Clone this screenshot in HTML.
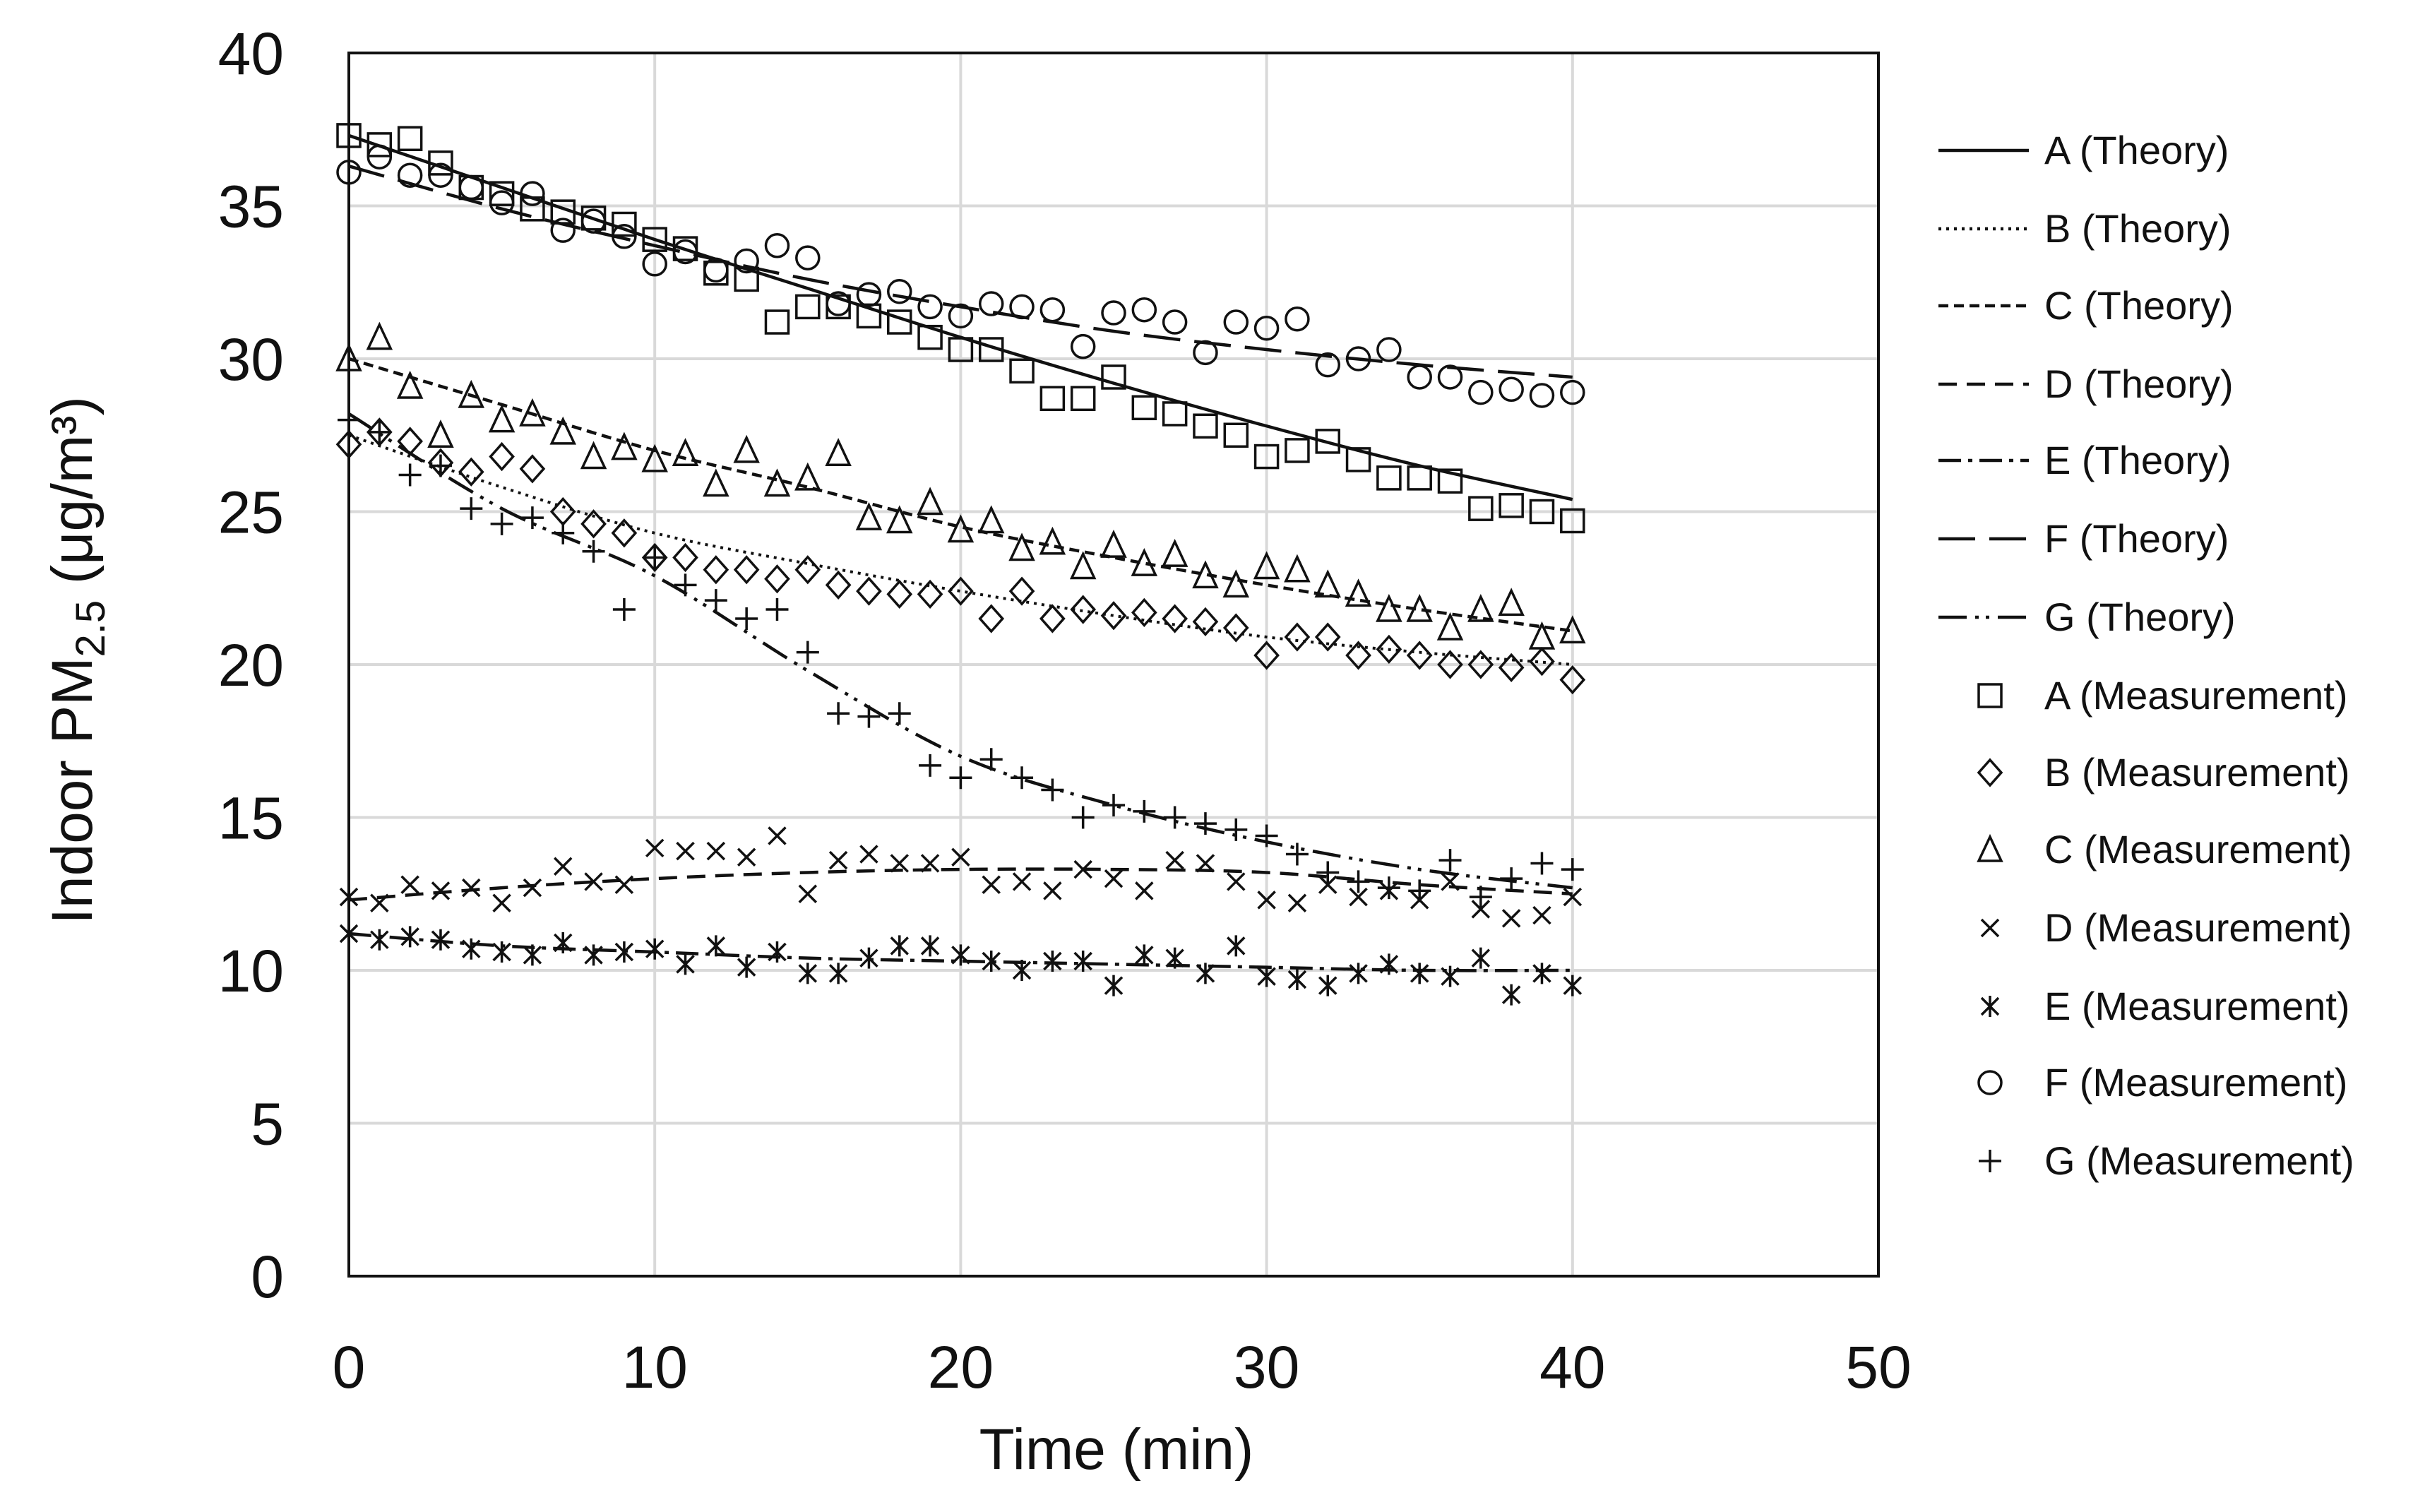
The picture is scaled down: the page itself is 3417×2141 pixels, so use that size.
<!DOCTYPE html>
<html><head><meta charset="utf-8"><style>
html,body{margin:0;padding:0;background:#fff;}
svg{display:block;font-family:"Liberation Sans",sans-serif;}
</style></head><body>
<svg id="chart" width="3417" height="2141" viewBox="0 0 3417 2141" xmlns="http://www.w3.org/2000/svg">
<rect width="3417" height="2141" fill="#fff"/>
<g id="grid"></g>
<g id="series"></g>
<g id="axes"></g>
<g id="legend"></g>
</svg>
<script>
const xTicks=[0,10,20,30,40,50];
const yTicks=[0,5,10,15,20,25,30,35,40];
const times=[];for(let i=0;i<=40;i++)times.push(i);
const theoryTimes=[0,5,10,15,20,25,30,35,40];
const measA=[37.3,37.0,37.2,36.4,35.6,35.4,34.9,34.8,34.6,34.4,33.9,33.6,32.8,32.6,31.2,31.7,31.7,31.4,31.2,30.7,30.3,30.3,29.6,28.7,28.7,29.4,28.4,28.2,27.8,27.5,26.8,27.0,27.3,26.7,26.1,26.1,26.0,25.1,25.2,25.0,24.7];
const measB=[27.2,27.6,27.3,26.6,26.3,26.8,26.4,25.0,24.6,24.3,23.5,23.5,23.1,23.1,22.8,23.1,22.6,22.4,22.3,22.3,22.4,21.5,22.4,21.5,21.8,21.6,21.7,21.5,21.4,21.2,20.3,20.9,20.9,20.3,20.5,20.3,20.0,20.0,19.9,20.1,19.5];
const measC=[30.0,30.7,29.1,27.5,28.8,28.0,28.2,27.6,26.8,27.1,26.7,26.9,25.9,27.0,25.9,26.1,26.9,24.8,24.7,25.3,24.4,24.7,23.8,24.0,23.2,23.9,23.3,23.6,22.9,22.6,23.2,23.1,22.6,22.3,21.8,21.8,21.2,21.8,22.0,20.9,21.1];
const measD=[12.4,12.2,12.8,12.6,12.7,12.2,12.7,13.4,12.9,12.8,14.0,13.9,13.9,13.7,14.4,12.5,13.6,13.8,13.5,13.5,13.7,12.8,12.9,12.6,13.3,13.0,12.6,13.6,13.5,12.9,12.3,12.2,12.8,12.4,12.6,12.3,12.9,12.0,11.7,11.8,12.4];
const measE=[11.2,11.0,11.1,11.0,10.7,10.6,10.5,10.9,10.5,10.6,10.7,10.2,10.8,10.1,10.6,9.9,9.9,10.4,10.8,10.8,10.5,10.3,10.0,10.3,10.3,9.5,10.5,10.4,9.9,10.8,9.8,9.7,9.5,9.9,10.2,9.9,9.8,10.4,9.2,9.9,9.5];
const measF=[36.1,36.6,36.0,36.0,35.6,35.1,35.4,34.2,34.5,34.0,33.1,33.5,32.9,33.2,33.7,33.3,31.8,32.1,32.2,31.7,31.4,31.8,31.7,31.6,30.4,31.5,31.6,31.2,30.2,31.2,31.0,31.3,29.8,30.0,30.3,29.4,29.4,28.9,29.0,28.8,28.9];
const measG=[28.0,27.6,26.2,26.5,25.1,24.6,24.8,24.3,23.7,21.8,23.5,22.6,22.1,21.5,21.8,20.4,18.4,18.3,18.4,16.7,16.3,16.9,16.3,15.9,15.0,15.4,15.2,15.0,14.8,14.6,14.4,13.8,13.2,12.9,12.7,12.6,13.6,12.4,13.0,13.5,13.3];
const theoA=[37.3,35.6,33.9,32.3,30.7,29.2,27.8,26.5,25.4];
const theoB=[27.5,25.8,24.3,23.3,22.4,21.6,20.9,20.4,20.0];
const theoC=[30.0,28.5,27.0,25.8,24.5,23.5,22.6,21.8,21.1];
const theoD=[12.3,12.7,13.0,13.2,13.3,13.3,13.2,12.8,12.5];
const theoE=[11.2,10.8,10.6,10.4,10.3,10.2,10.1,10.0,10.0];
const theoF=[36.3,34.9,33.7,32.6,31.7,30.9,30.3,29.8,29.4];
const theoG=[28.2,25.1,22.9,19.8,17.0,15.4,14.2,13.3,12.7];

const L=494,R=2660,T=75,B=1807;
const X=v=>L+(v-0)/(50-0)*(R-L);
const Y=v=>B-(v-0)/(40-0)*(B-T);
const NS="http://www.w3.org/2000/svg";
function mk(tag,attrs,parent){const e=document.createElementNS(NS,tag);for(const k in attrs)e.setAttribute(k,attrs[k]);parent.appendChild(e);return e;}
const grid=document.getElementById('grid'),axes=document.getElementById('axes'),ser=document.getElementById('series'),leg=document.getElementById('legend');

xTicks.forEach(t=>{
  if(t>0&&t<50){const g=mk('line',{x1:X(t),x2:X(t),y1:T,y2:B,stroke:'#d9d9d9','stroke-width':4},grid);
  
  }
  const tx=mk('text',{x:X(t),y:1965,'font-size':84,'text-anchor':'middle',fill:'#111'},axes);tx.textContent=t;
  
  
});
yTicks.forEach(t=>{
  if(t>0&&t<40){const g=mk('line',{x1:L,x2:R,y1:Y(t),y2:Y(t),stroke:'#d9d9d9','stroke-width':4},grid);
  
  }
  const tx=mk('text',{x:402,y:Y(t)+30,'font-size':84,'text-anchor':'end',fill:'#111'},axes);tx.textContent=t;
  
  
});
const frame=mk('rect',{x:L,y:T,width:R-L,height:B-T,fill:'none',stroke:'#111','stroke-width':4},axes);


const xt=mk('text',{x:1581,y:2080,'font-size':82,'text-anchor':'middle',fill:'#111'},axes);xt.textContent='Time (min)';


const yt=mk('text',{x:0,y:0,'font-size':82,'text-anchor':'middle',fill:'#111',transform:'translate(130,935) rotate(-90)'},axes);
yt.innerHTML='Indoor PM<tspan font-size="58" dy="18">2.5</tspan><tspan dy="-18"> (μg/m³)</tspan>';



const dashes={A:'',B:'4 7',C:'14 8',D:'26 14',E:'32 10 6 10',F:'52 20',G:'40 12 5 10 5 12'};
function marker(kind,cx,cy,p){
  const s=16,st={fill:'none',stroke:'#111','stroke-width':3.5};
  let e;
  if(kind==='A')e=mk('rect',Object.assign({x:cx-s,y:cy-s,width:2*s,height:2*s},st),p);
  else if(kind==='B')e=mk('polygon',Object.assign({points:`${cx},${cy-s-2} ${cx+s},${cy} ${cx},${cy+s+2} ${cx-s},${cy}`},st),p);
  else if(kind==='C')e=mk('polygon',Object.assign({points:`${cx},${cy-s-2} ${cx+s},${cy+s} ${cx-s},${cy+s}`},st),p);
  else if(kind==='D')e=mk('path',Object.assign({d:`M${cx-12},${cy-12}L${cx+12},${cy+12}M${cx+12},${cy-12}L${cx-12},${cy+12}`},st),p);
  else if(kind==='E')e=mk('path',Object.assign({d:`M${cx-12},${cy-12}L${cx+12},${cy+12}M${cx+12},${cy-12}L${cx-12},${cy+12}M${cx},${cy-15}L${cx},${cy+15}`},st),p);
  else if(kind==='F')e=mk('circle',Object.assign({cx:cx,cy:cy,r:s},st),p);
  else e=mk('path',Object.assign({d:`M${cx-16},${cy}L${cx+16},${cy}M${cx},${cy-16}L${cx},${cy+16}`},st),p);
  return e;
}
const meas={A:measA,B:measB,C:measC,D:measD,E:measE,F:measF,G:measG};
const theo={A:theoA,B:theoB,C:theoC,D:theoD,E:theoE,F:theoF,G:theoG};
const keys=['A','B','C','D','E','F','G'];
keys.forEach(k=>{
  const pts=theoryTimes.map((t,i)=>[X(t),Y(theo[k][i])]);
  let d='M'+pts[0][0]+','+pts[0][1];
  for(let i=0;i<pts.length-1;i++){
    const p0=pts[Math.max(0,i-1)],p1=pts[i],p2=pts[i+1],p3=pts[Math.min(pts.length-1,i+2)];
    const c1=[p1[0]+(p2[0]-p0[0])/6,p1[1]+(p2[1]-p0[1])/6],c2=[p2[0]-(p3[0]-p1[0])/6,p2[1]-(p3[1]-p1[1])/6];
    d+=`C${c1[0]},${c1[1]} ${c2[0]},${c2[1]} ${p2[0]},${p2[1]}`;
  }
  const ln=mk('path',{d:d,fill:'none',stroke:'#111','stroke-width':k==='B'?4:4.5,'stroke-dasharray':dashes[k]},ser);
  
  
});
keys.forEach(k=>{
  const g=mk('g',{},ser);
  
  
  times.forEach((t,i)=>{
    const m=marker(k,X(t),Y(meas[k][i]),g);
    
    
  });
});
const rows=[213,324,433,544,652,763,874,985,1094,1203,1314,1425,1533,1644];
keys.forEach((k,i)=>{
  const y=rows[i];
  const l=mk('line',{x1:2745,x2:2873,y1:y,y2:y,stroke:'#111','stroke-width':4.5,'stroke-dasharray':dashes[k]},leg);
  
  
  const t=mk('text',{x:2895,y:y+19,'font-size':56,fill:'#111'},leg);t.textContent=k+' (Theory)';
  
  
});
keys.forEach((k,i)=>{
  const y=rows[7+i];
  const m=marker(k,2818,y,leg);
  
  
  const t=mk('text',{x:2895,y:y+19,'font-size':56,fill:'#111'},leg);t.textContent=k+' (Measurement)';
  
  
});
</script>
</body></html>
